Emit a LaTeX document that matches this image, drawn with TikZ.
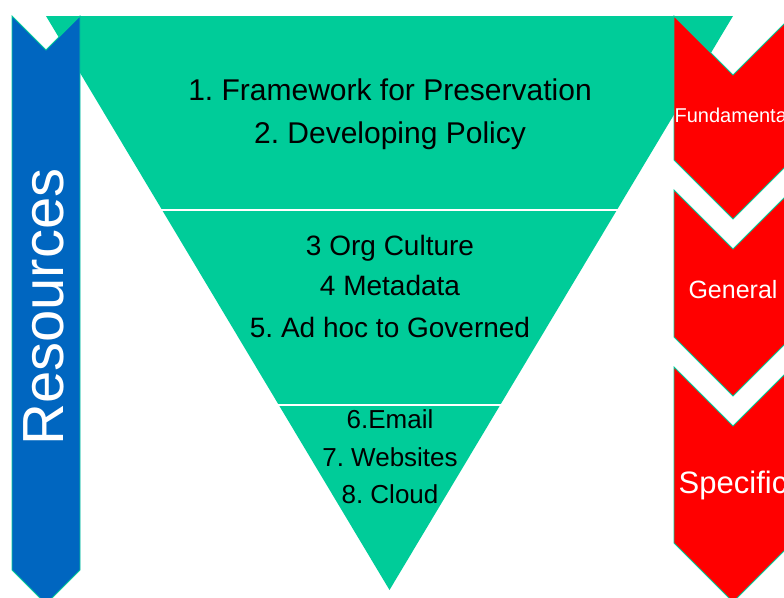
\documentclass[tikz,border=0pt]{standalone}
\usepackage{fontspec}
\setmainfont{Liberation Sans}
\frenchspacing
\definecolor{pyrgreen}{RGB}{0,204,153}
\definecolor{resblue}{RGB}{0,102,192}
\definecolor{levred}{RGB}{255,0,0}
\begin{document}
\begin{tikzpicture}[x=1pt,y=-1pt,
                  chev/.style={draw=pyrgreen,line width=0.8pt},
                  item/.style={anchor=base,inner sep=0pt,text=black},
                  level/.style={anchor=base,inner sep=0pt,text=white}]
                  \useasboundingbox (0,0) rectangle (784,597);
                  \clip (0,0) rectangle (784,597);
                  \fill [pyrgreen] (46,16)--(733,16)--(389.5,590)--cycle;
                  \draw [white,line width=2pt] (150,210)--(630,210);
                  \draw [white,line width=2pt] (270,405)--(510,405);
                  \draw [chev,fill=resblue] (12,16)--(46,50)--(80,16)--(80,570)--(46,604)--(12,570)--cycle;
                  \foreach \t/\b in {16/160, 190/337, 367/543}
                    \draw [chev,fill=levred] (674,\t)--(733,\t+59)--(792,\t)--(792,\b)--(733,\b+59)--(674,\b)--cycle;
                  \node [item,font=\fontsize{30}{36}\selectfont] (l1) at (390,100) {1. Framework for Preservation};
                  \node [item,font=\fontsize{30}{36}\selectfont] (l2) at (390,143) {2. Developing Policy};
                  \node [item,font=\fontsize{28}{34}\selectfont] (l3) at (390,255) {3 Org Culture};
                  \node [item,font=\fontsize{28}{34}\selectfont] (l4) at (390,295) {4 Metadata};
                  \node [item,font=\fontsize{28}{34}\selectfont] (l5) at (390,337) {5. Ad hoc to Governed};
                  \node [item,font=\fontsize{26}{31}\selectfont] (l6) at (390,428) {6.Email};
                  \node [item,font=\fontsize{26}{31}\selectfont] (l7) at (390,466) {7. Websites};
                  \node [item,font=\fontsize{26}{31}\selectfont] (l8) at (390,503) {8. Cloud};
                  \node [level,anchor=center,rotate=90,font=\fontsize{58}{70}\selectfont] (res) at (44,307) {Resources};
                  \node [level,font=\fontsize{20}{24}\selectfont] (fund) at (733,122) {Fundamental};
                  \node [level,font=\fontsize{25}{30}\selectfont] (gen) at (733,298) {General};
                  \node [level,font=\fontsize{31}{37}\selectfont] (spec) at (733,493) {Specific};
              \end{tikzpicture}
\end{document}
